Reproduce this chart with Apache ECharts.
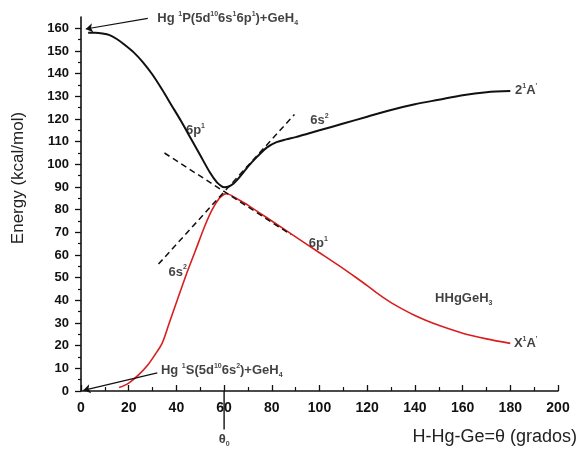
<!DOCTYPE html>
<html><head><meta charset="utf-8">
<script src="https://cdn.jsdelivr.net/npm/echarts@6/dist/echarts.min.js"></script>
<style>html,body{margin:0;padding:0;background:#fff}#c{width:580px;height:454px}</style>
</head><body><div id="c"></div>
<script>
// Upper adiabatic state 2¹A'
const upperX = [3, 6, 9, 12, 15, 18, 22, 26, 30, 34, 38, 42, 46, 50, 54, 57, 59, 60, 62, 64, 67, 70, 74, 78, 82, 86, 90, 95, 100, 110, 120, 130, 140, 150, 160, 170, 180];
const upperY = [158, 158, 157.7, 157, 155.3, 153, 149.5, 145, 139.5, 133, 126, 119, 111.5, 104, 96.5, 92, 90.3, 89.9, 90.2, 91.5, 95, 99, 103.5, 107.5, 109.8, 111, 112, 113.5, 115, 118, 121, 124, 126.5, 128.5, 130.5, 131.8, 132.3];
// Ground state X¹A'
const lowerX = [16, 20, 24, 28, 31, 34, 37, 40, 44, 48, 52, 55, 58, 60, 61, 63, 66, 70, 75, 80, 85, 90, 95, 100, 105, 110, 115, 120, 125, 130, 135, 140, 145, 150, 160, 170, 180];
const lowerY = [1.5, 3.5, 7, 11.5, 16, 21, 30, 39, 51, 62, 73, 80, 85, 86.8, 87, 86.3, 84.5, 82, 78.5, 75, 71.5, 68, 64.5, 61, 57.5, 54, 50.3, 46.5, 42.5, 39, 36, 33.3, 31, 29, 25.5, 23, 21];
// Diabatic (dashed) guide lines
const diab6pX = [35, 88];
const diab6pY = [105, 69];
const diab6sX = [32.5, 89.5];
const diab6sY = [56, 122];
// Ticks
const xTicks = [0, 20, 40, 60, 80, 100, 120, 140, 160, 180, 200];
const yTicks = [0, 10, 20, 30, 40, 50, 60, 70, 80, 90, 100, 110, 120, 130, 140, 150, 160];
const theta0 = 60;

const zip = (xs, ys) => xs.map((x, i) => [x, ys[i]]);
const FONT = 'Liberation Sans, Arial, sans-serif';
const rich = {
  t: {fontSize: 13, fontWeight: 'bold', color: '#111', fontFamily: FONT, lineHeight: 16},
  s: {fontSize: 7, fontWeight: 'bold', color: '#111', fontFamily: FONT, verticalAlign: 'top', lineHeight: 16},
  b: {fontSize: 7, fontWeight: 'bold', color: '#111', fontFamily: FONT, verticalAlign: 'bottom', lineHeight: 14}
};
function lbl(x, y, fmt, pos) {
  return {value: [x, y], label: {show: true, formatter: fmt, position: pos || 'inside', distance: 0, rich: rich}};
}

const chart = echarts.init(document.getElementById('c'));
chart.setOption({
  animation: false,
  backgroundColor: '#fff',
  grid: {left: 81, right: 22, top: 17, bottom: 63, containLabel: false},
  xAxis: {
    type: 'value', min: 0, max: 200, interval: 20,
    axisLine: {lineStyle: {color: '#111', width: 1.6}},
    axisTick: {show: true, inside: true, length: 6, lineStyle: {color: '#111', width: 1.3}, customValues: xTicks},
    minorTick: {show: true, splitNumber: 2, length: 4, lineStyle: {color: '#111', width: 1.2}},
    axisLabel: {customValues: xTicks, margin: 10, fontSize: 14, fontWeight: 'bold', color: '#111', fontFamily: FONT},
    splitLine: {show: false}
  },
  yAxis: {
    type: 'value', min: 0, max: 165, interval: 10,
    axisLine: {show: true, lineStyle: {color: '#111', width: 1.6}},
    axisTick: {show: true, inside: false, length: 6, lineStyle: {color: '#111', width: 1.3}, customValues: yTicks},
    minorTick: {show: true, splitNumber: 2, length: 3, lineStyle: {color: '#111', width: 1.2}},
    axisLabel: {customValues: yTicks, margin: 12, fontSize: 13, fontWeight: 'bold', color: '#111', fontFamily: FONT},
    splitLine: {show: false},
    name: 'Energy (kcal/mol)', nameLocation: 'middle', nameGap: 54,
    nameTextStyle: {fontSize: 17, color: '#222', fontFamily: FONT, padding: [0, 0, 0, 52]}
  },
  graphic: [{
    type: 'text', right: 3, top: 428,
    style: {text: 'H-Hg-Ge=θ (grados)', fontSize: 18, fill: '#222', fontFamily: FONT}
  }],
  series: [
    {type: 'line', name: "2¹A'", data: zip(upperX, upperY), smooth: 0.3, symbol: 'none',
     lineStyle: {color: '#111', width: 2}, z: 3},
    {type: 'line', name: "X¹A'", data: zip(lowerX, lowerY), smooth: 0.3, symbol: 'none',
     lineStyle: {color: '#d81e1e', width: 1.6}, z: 3},
    {type: 'line', data: zip(diab6pX, diab6pY), symbol: 'none',
     lineStyle: {color: '#111', width: 1.5, type: [6, 4]}, z: 4},
    {type: 'line', data: zip(diab6sX, diab6sY), symbol: 'none',
     lineStyle: {color: '#111', width: 1.5, type: [6, 4]}, z: 4},
    {type: 'line', data: [[theta0, 0], [theta0, -17]], symbol: 'none', clip: false,
     lineStyle: {color: '#111', width: 1.4}, z: 5,
     markLine: {
       silent: true, symbol: ['none', 'arrow'], symbolSize: 7,
       label: {show: false},
       lineStyle: {color: '#111', width: 1.2, type: 'solid'},
       data: [
         [{coord: [28, 164.4]}, {coord: [2, 159.7]}],
         [{coord: [32, 8]}, {coord: [1, 0.3]}]
       ]
     }},
    {type: 'scatter', symbolSize: 0, clip: false, silent: true, z: 6,
     data: [
       lbl(32, 164.3, '{t|Hg }{s|1}{t|P(5d}{s|10}{t|6s}{s|1}{t|6p}{s|1}{t|)+GeH}{b|4}', 'right'),
       lbl(33.5, 9, '{t|Hg }{s|1}{t|S(5d}{s|10}{t|6s}{s|2}{t|)+GeH}{b|4}', 'right'),
       lbl(48, 115, '{t|6p}{s|1}'),
       lbl(100, 119.5, '{t|6s}{s|2}'),
       lbl(182, 132.6, "{t|2}{s|1}{t|A}{s|'}", 'right'),
       lbl(40.5, 52.5, '{t|6s}{s|2}'),
       lbl(99.5, 65, '{t|6p}{s|1}'),
       lbl(160.5, 41, '{t|HHgGeH}{b|3}'),
       lbl(181.5, 21, "{t|X}{s|1}{t|A}{s|'}", 'right'),
       lbl(theta0, -21.5, '{t|θ}{b|0}')
     ]}
  ]
});
</script></body></html>
